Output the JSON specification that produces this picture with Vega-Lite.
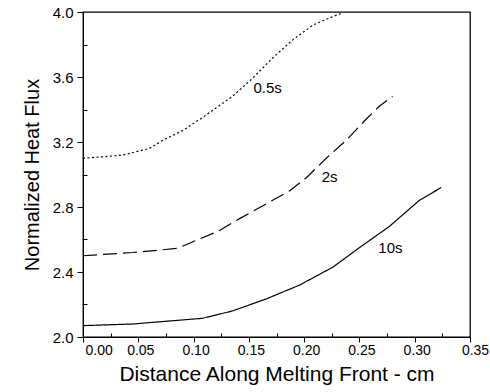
{
  "$schema": "https://vega.github.io/schema/vega-lite/v6.json",
  "width": 387,
  "height": 325,
  "autosize": "none",
  "padding": {"left": 83, "top": 12, "right": 20, "bottom": 55},
  "background": "white",
  "config": {
    "font": "Liberation Sans",
    "view": {"stroke": "black", "strokeWidth": 1.3},
    "axis": {
      "grid": false,
      "domainColor": "black",
      "tickColor": "black",
      "labelColor": "black",
      "titleColor": "black",
      "titleFontWeight": "normal",
      "labelFont": "Liberation Sans",
      "titleFont": "Liberation Sans"
    }
  },
  "datasets": {
    "curves": [
      {"series": "0.5s", "x": 0.000, "y": 3.10},
      {"series": "0.5s", "x": 0.020, "y": 3.11},
      {"series": "0.5s", "x": 0.036, "y": 3.12},
      {"series": "0.5s", "x": 0.060, "y": 3.16},
      {"series": "0.5s", "x": 0.072, "y": 3.21},
      {"series": "0.5s", "x": 0.090, "y": 3.27},
      {"series": "0.5s", "x": 0.108, "y": 3.35},
      {"series": "0.5s", "x": 0.135, "y": 3.48},
      {"series": "0.5s", "x": 0.153, "y": 3.59},
      {"series": "0.5s", "x": 0.172, "y": 3.72},
      {"series": "0.5s", "x": 0.190, "y": 3.83},
      {"series": "0.5s", "x": 0.208, "y": 3.92},
      {"series": "0.5s", "x": 0.229, "y": 3.98},
      {"series": "0.5s", "x": 0.233, "y": 3.99},
      {"series": "2s", "x": 0.000, "y": 2.50},
      {"series": "2s", "x": 0.045, "y": 2.52},
      {"series": "2s", "x": 0.085, "y": 2.545},
      {"series": "2s", "x": 0.099, "y": 2.585},
      {"series": "2s", "x": 0.122, "y": 2.65},
      {"series": "2s", "x": 0.142, "y": 2.73},
      {"series": "2s", "x": 0.166, "y": 2.82},
      {"series": "2s", "x": 0.187, "y": 2.90},
      {"series": "2s", "x": 0.202, "y": 2.98},
      {"series": "2s", "x": 0.220, "y": 3.10},
      {"series": "2s", "x": 0.238, "y": 3.21},
      {"series": "2s", "x": 0.256, "y": 3.34},
      {"series": "2s", "x": 0.268, "y": 3.42},
      {"series": "2s", "x": 0.280, "y": 3.48},
      {"series": "10s", "x": 0.000, "y": 2.07},
      {"series": "10s", "x": 0.045, "y": 2.08},
      {"series": "10s", "x": 0.108, "y": 2.115},
      {"series": "10s", "x": 0.135, "y": 2.16},
      {"series": "10s", "x": 0.166, "y": 2.235},
      {"series": "10s", "x": 0.196, "y": 2.32},
      {"series": "10s", "x": 0.226, "y": 2.43},
      {"series": "10s", "x": 0.250, "y": 2.55},
      {"series": "10s", "x": 0.277, "y": 2.68},
      {"series": "10s", "x": 0.304, "y": 2.84},
      {"series": "10s", "x": 0.324, "y": 2.92}
    ],
    "labels": [
      {"label": "0.5s", "x": 0.167, "y": 3.53},
      {"label": "2s", "x": 0.223, "y": 2.985},
      {"label": "10s", "x": 0.278, "y": 2.548}
    ]
  },
  "resolve": {"axis": {"x": "independent", "y": "independent"}},
  "layer": [
    {
      "data": {"name": "curves"},
      "mark": {"type": "line", "color": "black", "strokeWidth": 1.2},
      "encoding": {
        "x": {
          "field": "x", "type": "quantitative",
          "scale": {"domain": [0, 0.35], "nice": false, "zero": false},
          "axis": {
            "orient": "bottom",
            "values": [0, 0.05, 0.1, 0.15, 0.2, 0.25, 0.3, 0.35],
            "format": ".2f",
            "tickSize": 5,
            "labelPadding": 1,
            "labelFontSize": 14,
            "labelFlush": false,
            "labelOffset": {"condition": {"test": "datum.value > 0.349", "value": 5}, "value": 2},
            "labelAlign": {"condition": {"test": "datum.value < 0.001", "value": "left"}, "value": "center"},
            "title": "Distance Along Melting Front - cm",
            "titleFontSize": 21,
            "titlePadding": 6
          }
        },
        "y": {
          "field": "y", "type": "quantitative",
          "scale": {"domain": [2, 4], "nice": false, "zero": false},
          "axis": {
            "orient": "left",
            "values": [2, 2.4, 2.8, 3.2, 3.6, 4.0],
            "format": ".1f",
            "tickSize": 6,
            "labelPadding": 4,
            "labelFontSize": 15,
            "title": "Normalized Heat Flux",
            "titleFontSize": 20,
            "titlePadding": 10
          }
        },
        "detail": {"field": "series"},
        "strokeDash": {
          "field": "series", "type": "nominal",
          "scale": {"domain": ["0.5s", "2s", "10s"], "range": [[2, 2.5], [14, 6], [1, 0]]},
          "legend": null
        }
      }
    },
    {
      "data": {"name": "labels"},
      "mark": {"type": "text", "fontSize": 15, "color": "black", "align": "center", "baseline": "middle", "font": "Liberation Sans"},
      "encoding": {
        "x": {
          "field": "x", "type": "quantitative",
          "axis": {
            "orient": "bottom",
            "values": [0.025, 0.075, 0.125, 0.175, 0.225, 0.275, 0.325],
            "labels": false,
            "domain": false,
            "tickSize": -4,
            "title": null
          }
        },
        "y": {
          "field": "y", "type": "quantitative",
          "axis": {
            "orient": "left",
            "values": [2.2, 2.6, 3.0, 3.4, 3.8],
            "labels": false,
            "domain": false,
            "tickSize": -4,
            "title": null
          }
        },
        "text": {"field": "label"}
      }
    }
  ]
}
